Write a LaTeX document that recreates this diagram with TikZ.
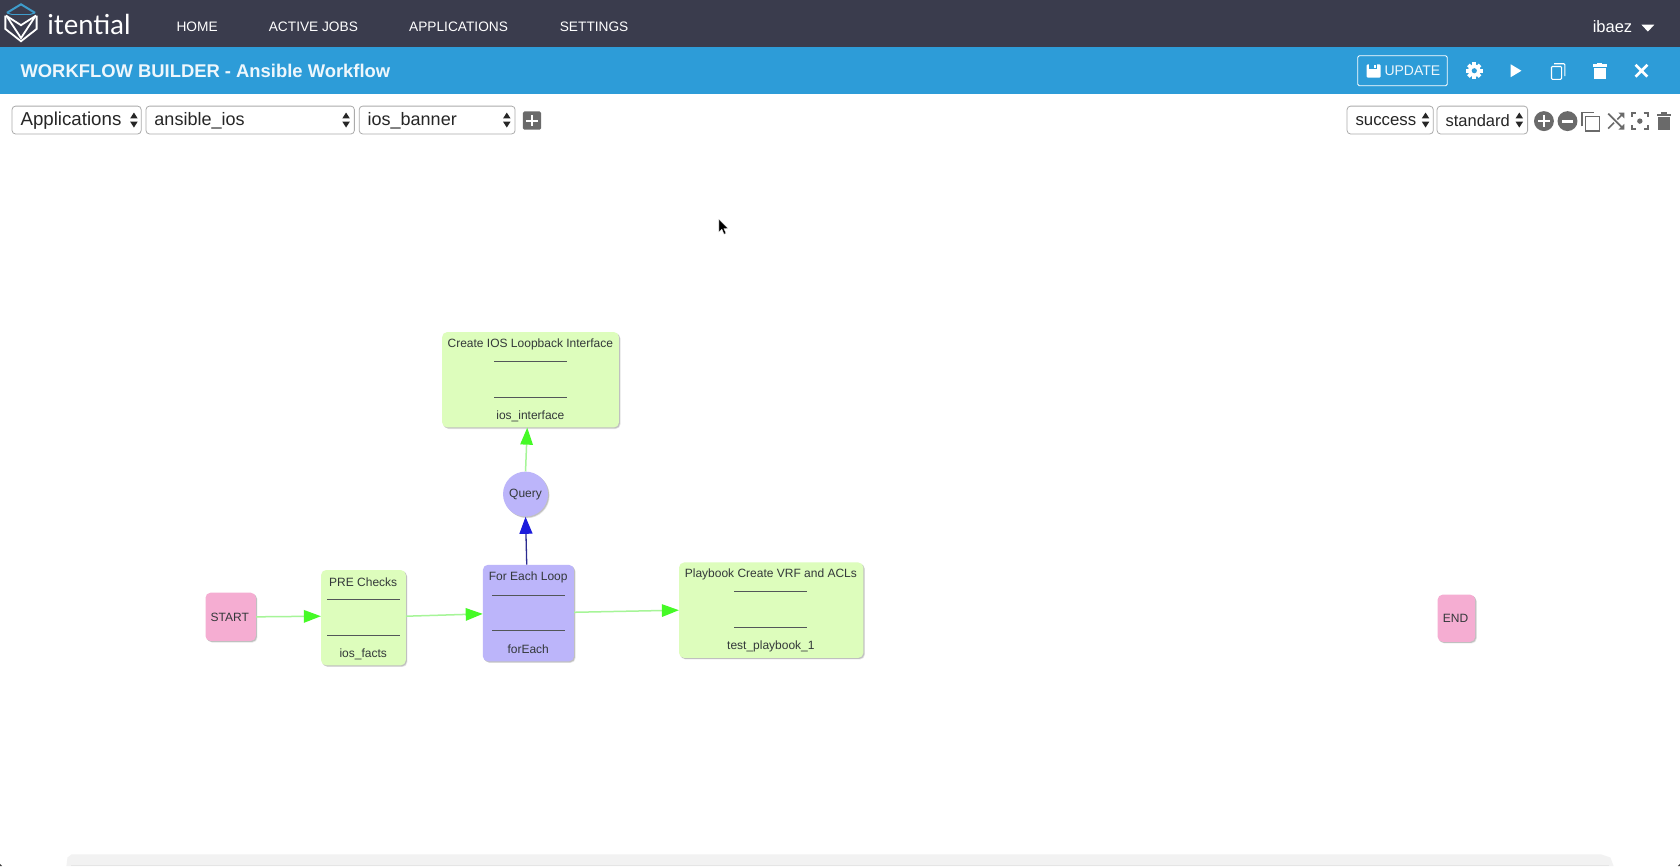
\documentclass[tikz,border=0pt]{standalone}
\usepackage{fontspec}
\setmainfont{Liberation Sans}
\newfontfamily\logofont{Lato}
\usetikzlibrary{arrows.meta,shadows,calc}
\definecolor{darkbar}{HTML}{3A3C4D}
\definecolor{bluebar}{HTML}{2D9CD8}
\definecolor{logoblue}{HTML}{3E9CCB}
\definecolor{pinkbox}{HTML}{F5ADD2}
\definecolor{greenbox}{HTML}{DDFDBC}
\definecolor{purplebox}{HTML}{BCB5FA}
\definecolor{inktext}{HTML}{33383A}
\definecolor{greenline}{HTML}{A6F598}
\definecolor{greenhead}{HTML}{45FA26}
\definecolor{navyline}{HTML}{2B2B90}
\definecolor{bluehead}{HTML}{1C1CDC}
\definecolor{iconring}{HTML}{6A6A6A}
\definecolor{selborder}{HTML}{ABABAB}
\definecolor{scrollgrey}{HTML}{F2F2F2}
\tikzset{
 x=1.0714pt,y=-1.0718pt,
 size/.style 2 args={minimum width=#1*1.0714pt,minimum height=#2*1.0718pt,inner sep=0pt},
 softshadow/.style={drop shadow={shadow xshift=1.6pt,shadow yshift=-1.6pt,fill=black,opacity=.10},
                    drop shadow={shadow xshift=1pt,shadow yshift=-1pt,fill=black,opacity=.16}},
 taskbox/.style={rounded corners=5pt,softshadow,draw=none},
 pinktask/.style={taskbox,fill=pinkbox},
 greentask/.style={taskbox,fill=greenbox},
 purpletask/.style={taskbox,fill=purplebox},
 tasktext/.style={font=\fontsize{12}{12}\selectfont,text=inktext,inner sep=0pt},
 rulebar/.style={minimum width=68*1.0714pt,minimum height=.7pt,inner sep=0pt,fill=inktext!85,draw=none},
 greenedge/.style={draw=greenline,line width=1.5pt,-{Triangle[length=17pt,width=12.5pt,color=greenhead]},shorten >=0pt},
 blueedge/.style={draw=navyline,line width=1.3pt,-{Triangle[length=17pt,width=13pt,color=bluehead]}},
 navtext/.style={font=\fontsize{13.7}{14}\selectfont,text=white,inner sep=0pt},
 selbox/.style={rounded corners=3.5pt,draw=selborder,line width=.8pt,fill=white},
 seltext/.style={font=\fontsize{18}{18}\selectfont,text=black!85,inner sep=0pt,anchor=west},
}
\newcommand{\updown}[2]{%
 \fill[black!85] (#1-3.5,#2-1.5) -- (#1,#2-7) -- (#1+3.5,#2-1.5) -- cycle;
 \fill[black!85] (#1-3.5,#2+1.5) -- (#1,#2+7) -- (#1+3.5,#2+1.5) -- cycle;}
\begin{document}
\begin{tikzpicture}
\useasboundingbox (0,0) rectangle (1568,808);
\fill[white] (0,0) rectangle (1568,808);
\fill[darkbar] (0,0) rectangle (1568,44);
\fill[bluebar] (0,44) rectangle (1568,88);
% scroll strip
\fill[scrollgrey] (62,808) -- (63,800) -- (67,797) -- (1494,797) -- (1503,800) -- (1506,808) -- cycle;
\fill[black!10] (66,807) rectangle (1502,808);
% screen corners
\fill[black!75] (0,806) -- (2,808) -- (0,808) -- cycle;
\fill[black!75] (1568,806) -- (1566,808) -- (1568,808) -- cycle;
% logo
\draw[logoblue,line width=2pt,line join=miter] (6.5,12) -- (19.6,4) -- (32.7,12);
\draw[logoblue,line width=1.6pt,line join=miter] (11,13.5) -- (28,13.5);
\draw[logoblue,line width=1pt] (6.5,12) -- (11,13.5) (32.7,12) -- (28,13.5);
\draw[white,line width=1.8pt,line join=miter] (5,14.5) -- (5,27) -- (19.6,38.5) -- (34.2,27) -- (34.2,14.5);
\draw[white,line width=1.8pt,line join=miter] (5.5,14.5) -- (19.6,23.5) -- (33.7,14.5);
\draw[white,line width=1.8pt,line join=miter] (6.5,15.5) -- (19.6,35.5) -- (32.7,15.5);
\node[inner sep=0pt,anchor=west,text=white,font=\logofont\fontsize{27.5}{27}\selectfont] (logotext) at (44,22.5) {itential};
% nav
\node[navtext] (nhome) at (184,24.7) {HOME};
\node[navtext] (njobs) at (292.5,24.7) {ACTIVE JOBS};
\node[navtext] (napps) at (428,24.7) {APPLICATIONS};
\node[navtext] (nset) at (554.5,24.7) {SETTINGS};
\node[inner sep=0pt,text=white,font=\fontsize{16.5}{16}\selectfont] (nuser) at (1505,24.5) {ibaez};
\fill[white] (1532,23) -- (1544,23) -- (1538,29.5) -- cycle;
% title
\node[inner sep=0pt,anchor=west,text=white!92!bluebar,font=\bfseries\fontsize{18.4}{18}\selectfont] (title) at (19,66.5) {WORKFLOW BUILDER - Ansible Workflow};
% update
\node[draw=white,line width=.9pt,rounded corners=1.5pt,size={83.5}{28}] (upd) at (1309,66) {};
\node[inner sep=0pt,anchor=west,text=white!92!bluebar,font=\fontsize{14}{14}\selectfont] (updt) at (1292,66) {UPDATE};
\fill[white,rounded corners=1.2pt] (1275.5,60) rectangle (1288.5,72.5);
\fill[bluebar] (1278,60) rectangle (1285,64);
\fill[white] (1282.5,60.7) rectangle (1284,63.3);
% gear
\fill[white] (1376,66) circle (5.8);
\foreach \a in {0,45,...,315}{\fill[white,rotate around={\a:(1376,66)}] (1374.3,58.3) rectangle (1377.7,61);}
\fill[bluebar] (1376,66) circle (2.4);
% play
\fill[white] (1410,60) -- (1420,66) -- (1410,72) -- cycle;
% copy
\draw[white,line width=1.1pt,rounded corners=1pt] (1448,62) rectangle (1457.5,74);
\draw[white,line width=1.1pt,rounded corners=1pt] (1450.5,59.5) -- (1460.5,59.5) -- (1460.5,71);
% trash
\fill[white] (1487.5,63.5) rectangle (1498.5,74);
\fill[white] (1486.5,60) rectangle (1499.5,62.3);
\fill[white] (1490.5,58.7) rectangle (1495.5,60.5);
% close
\draw[white,line width=2.6pt] (1526.5,60.5) -- (1537.5,71.5) (1537.5,60.5) -- (1526.5,71.5);
% selects
\node[selbox,size={120.5}{26}] (s1) at (71.5,112) {};
\node[seltext,font=\fontsize{18.7}{18}\selectfont] (s1t) at (19,113) {Applications};
\updown{125}{112}
\node[selbox,size={194.5}{26}] (s2) at (233.5,112) {};
\node[seltext] (s2t) at (144,113) {ansible\_ios};
\updown{323}{112}
\node[selbox,size={145.5}{26}] (s3) at (408,112) {};
\node[seltext] (s3t) at (343,113) {ios\_banner};
\updown{473}{112}
\node[fill=iconring,rounded corners=1.5pt,size={17}{17}] (addbtn) at (496.5,112.5) {};
\fill[white] (491,111.5) rectangle (502,113.7);
\fill[white] (495.4,107) rectangle (497.6,118);
\node[selbox,size={80.5}{26}] (s4) at (1297.5,112) {};
\node[seltext,font=\fontsize{16.8}{16}\selectfont] (s4t) at (1265,112.5) {success};
\updown{1330.5}{112}
\node[selbox,size={84.5}{26}] (s5) at (1383.5,112) {};
\node[seltext,font=\fontsize{16.5}{16}\selectfont] (s5t) at (1349,112.5) {standard};
\updown{1418}{112}
% toolbar icons
\fill[iconring] (1441,113) circle (9.3);
\fill[white] (1435.5,112) rectangle (1446.5,114.2);
\fill[white] (1439.9,107.5) rectangle (1442.1,118.5);
\fill[iconring] (1463,113) circle (9.3);
\fill[white] (1457.5,111.7) rectangle (1468.5,114.3);
\draw[iconring,line width=1.5pt] (1476.5,118) -- (1476.5,105) -- (1488,105);
\draw[iconring,line width=1.5pt] (1480,108.5) rectangle (1493,122);
\draw[iconring,line width=1.6pt] (1501,106) -- (1515,120) (1501,120) -- (1506.5,114.5) (1509.5,111.5) -- (1515,106);
\fill[iconring] (1516,105) -- (1510.5,105) -- (1516,110.5) -- cycle;
\fill[iconring] (1516,121) -- (1510.5,121) -- (1516,115.5) -- cycle;
\draw[iconring,line width=1.6pt] (1523,109) -- (1523,105.5) -- (1527,105.5) (1534,105.5) -- (1538,105.5) -- (1538,109) (1538,117) -- (1538,120.5) -- (1534,120.5) (1527,120.5) -- (1523,120.5) -- (1523,117);
\fill[iconring] (1530.5,113) circle (2.5);
\fill[iconring] (1547.5,109) rectangle (1558.5,121.5);
\fill[iconring] (1546.5,106) rectangle (1559.5,108);
\fill[iconring] (1550.5,104.5) rectangle (1555.5,106.2);
% cursor
\fill[black,draw=white,line width=.3pt] (671,204.5) -- (671,216.5) -- (673.8,213.9) -- (675.8,218.5) -- (677.6,217.7) -- (675.6,213.3) -- (679.4,213.1) -- cycle;
% task boxes
\node[pinktask,size={47}{45}] (start) at (215.3,575.5) {};
\node[greentask,size={79}{89}] (pre) at (339.2,576.3) {};
\node[purpletask,size={85}{90}] (each) at (493.2,572) {};
\node[greentask,size={172}{89}] (play) at (719.8,569.3) {};
\node[greentask,size={165}{89}] (create) at (495.2,354.3) {};
\node[purpletask,circle,rounded corners=0pt,size={42}{42}] (query) at (490.5,461) {};
\node[pinktask,size={35}{44}] (endbox) at (1359.3,576.8) {};
% connectors
\draw[greenedge] (start.east) -- (pre.178.5);
\draw[greenedge] (pre.2.2) -- (each.181.3);
\draw[greenedge] (each.1.3) -- (play.west);
\draw[blueedge] (each.92.5) -- (query.south);
\draw[greenedge] (query.north) -- (create.266.8);
% task text
\node[tasktext] (startt) at (214.5,575.7) {START};
\node[tasktext] (endt) at (1358.5,576.7) {END};
\node[tasktext] (pret) at (339,543) {PRE Checks};
\node[rulebar] (prer1) at (339,559) {};
\node[rulebar] (prer2) at (339,593) {};
\node[tasktext] (prel) at (339,610.3) {ios\_facts};
\node[tasktext] (eacht) at (493,539) {For Each Loop};
\node[rulebar] (eachr1) at (493,555) {};
\node[rulebar] (eachr2) at (493,588.5) {};
\node[tasktext] (eachl) at (493,605.5) {forEach};
\node[tasktext] (playt) at (719.5,536) {Playbook Create VRF and ACLs};
\node[rulebar] (playr1) at (719.5,551.5) {};
\node[rulebar] (playr2) at (719.5,585) {};
\node[tasktext] (playl) at (719.5,603) {test\_playbook\_1};
\node[tasktext] (createt) at (495,321.5) {Create IOS Loopback Interface};
\node[rulebar] (creater1) at (495,337) {};
\node[rulebar] (creater2) at (495,371) {};
\node[tasktext] (createl) at (495,388.5) {ios\_interface};
\node[tasktext] (queryt) at (490.5,461.3) {Query};
\end{tikzpicture}
\end{document}
